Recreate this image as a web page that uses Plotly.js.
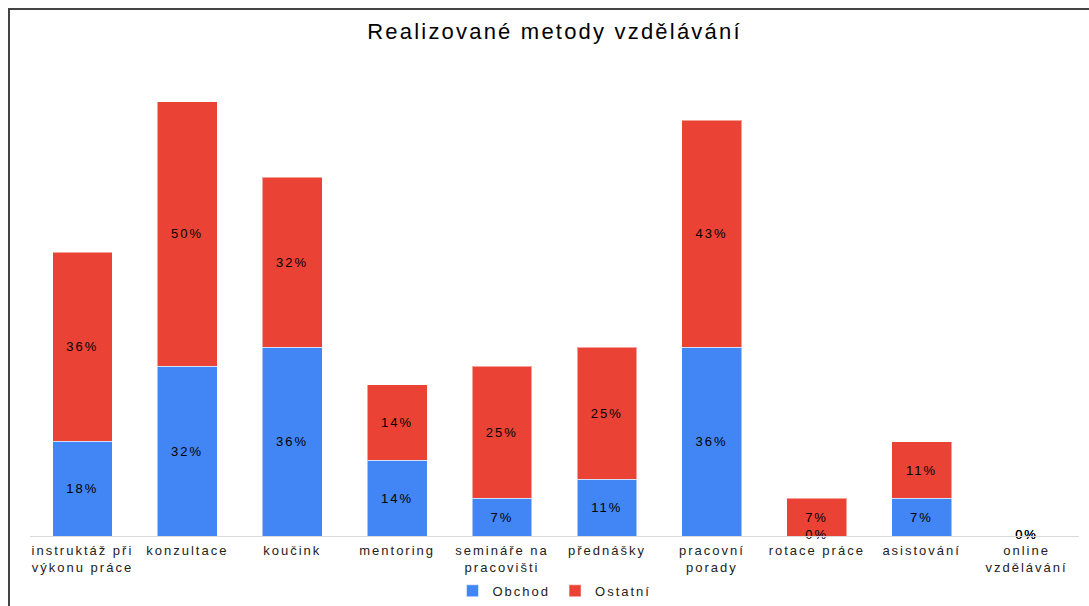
<!DOCTYPE html>
<html>
<head>
<meta charset="utf-8">
<script src="https://cdn.plot.ly/plotly-3.0.1.min.js"></script>
<style>
  html, body { margin: 0; padding: 0; background: #fff; }
  #wrap { position: relative; width: 1089px; height: 606px; }
  #chart { position: absolute; left: 0; top: 0; width: 1089px; height: 606px; }
  #frame { position: absolute; left: 8px; top: 8px; width: 1100px; height: 620px;
           border-left: 2px solid #444; border-top: 2px solid #444; pointer-events: none; z-index: 10; }
  #chart .main-svg text, #js-plotly-tester text.legendtext { letter-spacing: 2px; }
  #chart .main-svg text.gtitle { letter-spacing: 2.2px; }
</style>
</head>
<body>
<div id="wrap">
  <div id="chart"></div>
  <div id="frame"></div>
</div>
<script>
const categories = ["instruktáž při<br>výkonu práce", "konzultace", "koučink", "mentoring",
  "semináře na<br>pracovišti", "přednášky", "pracovní<br>porady", "rotace práce",
  "asistování", "online<br>vzdělávání"];
const obchod = [17.9, 32.1, 35.7, 14.3, 7.1, 10.7, 35.7, 0, 7.1, 0];
const ostatni = [35.7, 50.0, 32.1, 14.3, 25.0, 25.0, 42.9, 7.1, 10.7, 0];
const seriesNames = ["Obchod", "Ostatní"];
const seriesColors = ["#4285F4", "#EA4335"];

const fmt = v => Math.round(v) + "%";
const labelFont = {family: "Liberation Sans, Arial, sans-serif", size: 13, color: "#000"};

function barTrace(vals, i) {
  return {
    type: "bar", name: seriesNames[i], x: categories, y: vals,
    marker: {color: seriesColors[i], line: {color: "rgba(255,255,255,0.5)", width: 1}},
    text: vals.map(v => v > 0 ? fmt(v) : ""),
    textposition: "inside", insidetextanchor: "middle",
    textfont: labelFont, textangle: 0, hoverinfo: "skip", constraintext: "none"
  };
}
function zeroTrace(vals) {
  const xs = [], ys = [], ts = [];
  vals.forEach((v, k) => { if (v === 0) { xs.push(categories[k]); ys.push(0); ts.push(fmt(v)); } });
  return {type: "scatter", mode: "text", x: xs, y: ys, text: ts, textposition: "middle center",
          textfont: labelFont, showlegend: false, hoverinfo: "skip", cliponaxis: false};
}

const data = [barTrace(obchod, 0), barTrace(ostatni, 1), zeroTrace(obchod), zeroTrace(ostatni)];

const layout = {
  width: 1089, height: 606,
  paper_bgcolor: "#fff", plot_bgcolor: "#fff",
  margin: {l: 30, r: 10, t: 101, b: 70, autoexpand: false},
  barmode: "stack", bargap: 0.43,
  font: {family: "Liberation Sans, Arial, sans-serif", size: 13, color: "#222"},
  title: {text: "Realizované metody vzdělávání", x: 0.5, xref: "paper", y: 0.948, yref: "container",
          yanchor: "middle", font: {size: 22, color: "#000", family: "Liberation Sans, Arial, sans-serif"}},
  xaxis: {type: "category", showline: true, linecolor: "#d9d9d9", linewidth: 1, ticks: "",
          automargin: false, tickfont: {size: 13, color: "#222"}, fixedrange: true,
          ticklabelstandoff: 2, showgrid: false, zeroline: false},
  yaxis: {range: [0, 82.2], visible: false, showgrid: false, zeroline: false, fixedrange: true, automargin: false},
  showlegend: true,
  legend: {orientation: "h", x: 0.5, xanchor: "center", xref: "paper", y: 0.025, yref: "container",
           yanchor: "middle", font: {size: 13, color: "#222"}, itemwidth: 30, traceorder: "normal"}
};

Plotly.newPlot("chart", data, layout, {displayModeBar: false, staticPlot: true});
</script>
</body>
</html>
